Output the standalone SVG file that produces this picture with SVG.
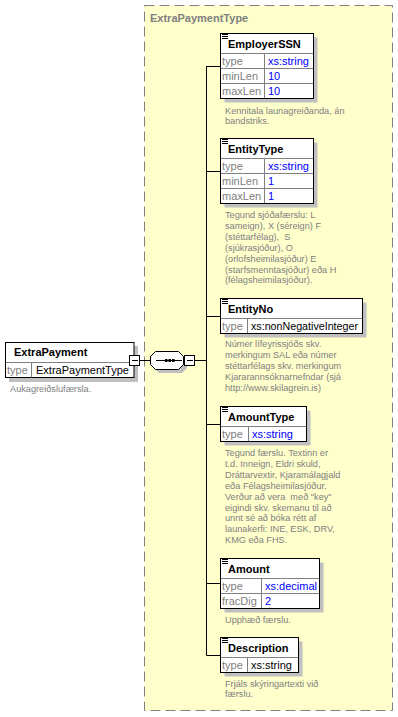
<svg xmlns="http://www.w3.org/2000/svg" width="398" height="717" viewBox="0 0 398 717">
<style>
.bg{fill:#ffffff}
.box{fill:#ffffff;stroke:#000000;stroke-width:1}
.sh{fill:#c0c0c0}
.sep{stroke:#808080;stroke-width:1;fill:none}
.ln{stroke:#000000;stroke-width:1;fill:none}
.ttl{font-family:"Liberation Sans",Arial,sans-serif;font-size:11px;font-weight:bold;fill:#000000}
.lbl{font-family:"Liberation Sans",Arial,sans-serif;font-size:11px;fill:#808080}
.val{font-family:"Liberation Sans",Arial,sans-serif;font-size:11px;fill:#0000ff}
.valb{font-family:"Liberation Sans",Arial,sans-serif;font-size:11px;fill:#000000}
.desc{font-family:"Liberation Sans",Arial,sans-serif;font-size:9.2px;fill:#808080}
.grp{font-family:"Liberation Sans",Arial,sans-serif;font-size:11px;font-weight:bold;fill:#808080}
</style>
<defs>
<g id="icon"><path d="M0 0.5H6M0 2.5H6M0 4.5H6" stroke="#000" stroke-width="1"/></g>
<g id="minus"><rect x="0.5" y="0.5" width="10" height="10" fill="#fff" stroke="#000"/><path d="M3 5.5H9" stroke="#000"/></g>
</defs>
<rect class="bg" x="0" y="0" width="398" height="717"/>

<g id="ExtraPaymentType">
<rect x="144.5" y="5.5" width="248" height="705" fill="#ffffcc" stroke="#808080" stroke-dasharray="10,5"/>
<text class="grp" x="150" y="22">ExtraPaymentType</text>
</g>

<g id="connectors">
<path class="ln" d="M140 360.5H150"/>
<path class="ln" d="M195 360.5H206.5"/>
<path class="ln" d="M206.5 66V655.5"/>
<path class="ln" d="M206.5 66.5H220.5"/>
<path class="ln" d="M206.5 171.5H220.5"/>
<path class="ln" d="M206.5 316.5H220.5"/>
<path class="ln" d="M206.5 424.5H220.5"/>
<path class="ln" d="M206.5 583.5H220.5"/>
<path class="ln" d="M206.5 655.5H220.5"/>
</g>

<g id="ExtraPayment">
<rect class="sh" x="9" y="346" width="129" height="36"/>
<rect class="box" x="5.5" y="342.5" width="128.5" height="35"/>
<path class="sep" d="M6 362.5H133.5M31.5 362.5V377.5"/>
<text class="ttl" x="14" y="356">ExtraPayment</text>
<text class="lbl" x="7" y="374">type</text>
<text class="valb" x="36" y="374">ExtraPaymentType</text>
<use href="#minus" x="129" y="355"/>
<text class="desc" x="10" y="392">Aukagreiðslufærsla.</text>
</g>

<g id="sequence">
<polygon class="sh" points="159,355 182,355 187,360 187,368 182,373 159,373 154,368 154,360"/>
<polygon class="box" points="155.5,351.5 178.5,351.5 183.5,356.5 183.5,364.5 178.5,369.5 155.5,369.5 150.5,364.5 150.5,356.5"/>
<path class="ln" d="M156 360.5H182"/>
<rect x="165" y="359" width="2.5" height="3" fill="#000"/>
<rect x="168.5" y="359" width="2.5" height="3" fill="#000"/>
<rect x="172" y="359" width="2.5" height="3" fill="#000"/>
<use href="#minus" x="184" y="355"/>
</g>

<g id="EmployerSSN">
<rect class="sh" x="224.5" y="37.5" width="93" height="65"/>
<rect class="box" x="220.5" y="33.5" width="93" height="65"/>
<path class="sep" d="M221 53.5H313M221 68.5H313M221 83.5H313M264.5 54V98"/>
<use href="#icon" x="222" y="34"/>
<text class="ttl" x="228" y="48">EmployerSSN</text>
<text class="lbl" x="222" y="65">type</text>
<text class="val" x="268" y="65">xs:string</text>
<text class="lbl" x="222" y="80">minLen</text>
<text class="val" x="268" y="80">10</text>
<text class="lbl" x="222" y="95">maxLen</text>
<text class="val" x="268" y="95">10</text>
<text class="desc" x="225" y="113.5">Kennitala launagreiðanda, án</text>
<text class="desc" x="225" y="124.4">bandstriks.</text>
</g>

<g id="EntityType">
<rect class="sh" x="224.5" y="142.5" width="93" height="65"/>
<rect class="box" x="220.5" y="138.5" width="93" height="65"/>
<path class="sep" d="M221 158.5H313M221 173.5H313M221 188.5H313M264.5 159V203"/>
<use href="#icon" x="222" y="139"/>
<text class="ttl" x="228" y="153">EntityType</text>
<text class="lbl" x="222" y="170">type</text>
<text class="val" x="268" y="170">xs:string</text>
<text class="lbl" x="222" y="185">minLen</text>
<text class="val" x="268" y="185">1</text>
<text class="lbl" x="222" y="200">maxLen</text>
<text class="val" x="268" y="200">1</text>
<text class="desc" x="225" y="218">Tegund sjóðafærslu: L</text>
<text class="desc" x="225" y="228.9">sameign), X (séreign) F</text>
<text class="desc" x="225" y="239.8" xml:space="preserve">(stéttarfélag),  S</text>
<text class="desc" x="225" y="250.7">(sjúkrasjóður), O</text>
<text class="desc" x="225" y="261.6">(orlofsheimilasjóður) E</text>
<text class="desc" x="225" y="272.5">(starfsmenntasjóður) eða H</text>
<text class="desc" x="225" y="283.4">(félagsheimilasjóður).</text>
</g>

<g id="EntityNo">
<rect class="sh" x="224.5" y="302.5" width="142" height="35"/>
<rect class="box" x="220.5" y="298.5" width="142" height="35"/>
<path class="sep" d="M221 318.5H362M247.5 319V333"/>
<use href="#icon" x="222" y="299"/>
<text class="ttl" x="228" y="313">EntityNo</text>
<text class="lbl" x="222" y="330">type</text>
<text class="valb" x="251" y="330" textLength="107" lengthAdjust="spacingAndGlyphs">xs:nonNegativeInteger</text>
<text class="desc" x="225" y="347">Númer lífeyrissjóðs skv.</text>
<text class="desc" x="225" y="357.9">merkingum SAL eða númer</text>
<text class="desc" x="225" y="368.8">stéttarfélags skv. merkingum</text>
<text class="desc" x="225" y="379.7">Kjararannsóknarnefndar (sjá</text>
<text class="desc" x="225" y="390.6">http://www.skilagrein.is)</text>
</g>

<g id="AmountType">
<rect class="sh" x="224.5" y="410.5" width="86" height="35"/>
<rect class="box" x="220.5" y="406.5" width="86" height="35"/>
<path class="sep" d="M221 426.5H306M248.5 427V441"/>
<use href="#icon" x="222" y="407"/>
<text class="ttl" x="228" y="421">AmountType</text>
<text class="lbl" x="222" y="438">type</text>
<text class="val" x="252" y="438">xs:string</text>
<text class="desc" x="225" y="456">Tegund færslu. Textinn er</text>
<text class="desc" x="225" y="466.9">t.d. Inneign, Eldri skuld,</text>
<text class="desc" x="225" y="477.8">Dráttarvextir, Kjaramálagjald</text>
<text class="desc" x="225" y="488.7">eða Félagsheimilasjóður.</text>
<text class="desc" x="225" y="499.6" xml:space="preserve">Verður að vera  með "key"</text>
<text class="desc" x="225" y="510.5">eigindi skv. skemanu til að</text>
<text class="desc" x="225" y="521.4">unnt sé að bóka rétt af</text>
<text class="desc" x="225" y="532.3">launakerfi: INE, ESK, DRV,</text>
<text class="desc" x="225" y="543.2">KMG eða FHS.</text>
</g>

<g id="Amount">
<rect class="sh" x="224.5" y="562.5" width="99" height="50"/>
<rect class="box" x="220.5" y="558.5" width="99" height="50"/>
<path class="sep" d="M221 578.5H319M221 593.5H319M261.5 579V608"/>
<use href="#icon" x="222" y="559"/>
<text class="ttl" x="228" y="573">Amount</text>
<text class="lbl" x="222" y="590">type</text>
<text class="val" x="265" y="590">xs:decimal</text>
<text class="lbl" x="222" y="605">fracDig</text>
<text class="val" x="265" y="605">2</text>
<text class="desc" x="225" y="622.5">Upphæð færslu.</text>
</g>

<g id="Description">
<rect class="sh" x="224.5" y="641.5" width="78" height="35"/>
<rect class="box" x="220.5" y="637.5" width="78" height="35"/>
<path class="sep" d="M221 657.5H298M247.5 658V672"/>
<use href="#icon" x="222" y="638"/>
<text class="ttl" x="228" y="652">Description</text>
<text class="lbl" x="222" y="669">type</text>
<text class="valb" x="251" y="669">xs:string</text>
<text class="desc" x="225" y="686.5">Frjáls skýringartexti við</text>
<text class="desc" x="225" y="697.4">færslu.</text>
</g>
</svg>
